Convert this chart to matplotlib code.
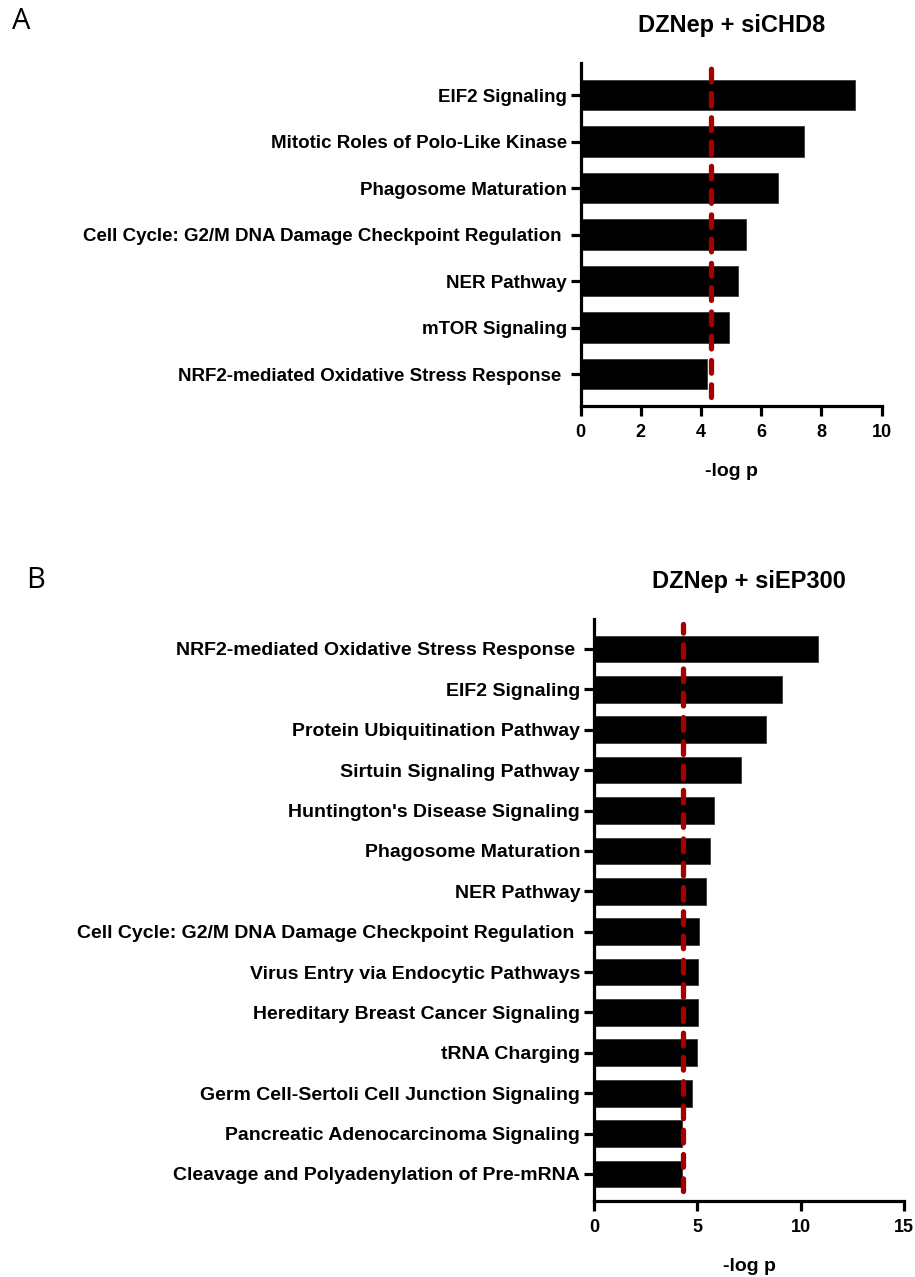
import matplotlib
matplotlib.use("Agg")
import matplotlib.pyplot as plt

plt.rcParams['font.family'] = ['Liberation Sans', 'DejaVu Sans']
plt.rcParams['font.weight'] = 'bold'

# Panel A: DZNep + siCHD8
chd8_terms = [
    "EIF2 Signaling",
    "Mitotic Roles of Polo-Like Kinase",
    "Phagosome Maturation",
    "Cell Cycle: G2/M DNA Damage Checkpoint Regulation ",
    "NER Pathway",
    "mTOR Signaling",
    "NRF2-mediated Oxidative Stress Response ",
]
chd8_logp = [9.10, 7.42, 6.56, 5.48, 5.23, 4.94, 4.19]
chd8_threshold = 4.32
chd8_ticks = [0, 2, 4, 6, 8, 10]

# Panel B: DZNep + siEP300
ep300_terms = [
    "NRF2-mediated Oxidative Stress Response ",
    "EIF2 Signaling",
    "Protein Ubiquitination Pathway",
    "Sirtuin Signaling Pathway",
    "Huntington's Disease Signaling",
    "Phagosome Maturation",
    "NER Pathway",
    "Cell Cycle: G2/M DNA Damage Checkpoint Regulation ",
    "Virus Entry via Endocytic Pathways",
    "Hereditary Breast Cancer Signaling",
    "tRNA Charging",
    "Germ Cell-Sertoli Cell Junction Signaling",
    "Pancreatic Adenocarcinoma Signaling",
    "Cleavage and Polyadenylation of Pre-mRNA",
]
ep300_logp = [10.85, 9.11, 8.34, 7.11, 5.82, 5.60, 5.43, 5.10, 5.05, 5.05,
              5.00, 4.74, 4.27, 4.24]
ep300_threshold = 4.29
ep300_ticks = [0, 5, 10, 15]

fig = plt.figure(figsize=(9.15, 12.77), dpi=100)
fig.patch.set_facecolor('white')


def draw_panel(ax, terms, values, threshold, ticks, title, ylim, vspan,
               bar_h, label_size):
    pos = list(range(len(terms)))
    ax.barh(pos, values, height=bar_h, color='black', edgecolor='#3a3a3a',
            linewidth=0.6, zorder=2)
    ax.set_ylim(*ylim)
    ax.set_xlim(ticks[0], ticks[-1])
    ax.set_xticks(ticks)
    ax.set_yticks(pos)
    ax.set_yticklabels(terms, fontsize=label_size, fontweight='bold')
    for lab in ax.get_xticklabels():
        lab.set_fontsize(13)
        lab.set_fontweight('bold')
    # significance threshold
    ax.plot([threshold, threshold], vspan, color='#a50000', lw=3.8,
            linestyle=(0, (2.4, 2.2)), solid_capstyle='butt',
            dash_capstyle='round', zorder=3)
    for side in ('top', 'right'):
        ax.spines[side].set_visible(False)
    for side in ('left', 'bottom'):
        ax.spines[side].set_linewidth(2.3)
    ax.tick_params(axis='both', width=2.3, length=7, color='black')
    ax.tick_params(axis='y', pad=3)
    ax.tick_params(axis='x', pad=6)
    ax.set_xlabel('-log p', fontsize=14, fontweight='bold', labelpad=16)
    ax.set_title(title, fontsize=17, fontweight='bold', pad=22)


axA = fig.add_axes([0.6346, 0.6823, 0.3290, 0.2684])
draw_panel(axA, chd8_terms, chd8_logp, chd8_threshold, chd8_ticks,
           'DZNep + siCHD8', (6.68, -0.69), (6.49, -0.645), 0.65, 13.5)

axB = fig.add_axes([0.6492, 0.0595, 0.3388, 0.4558])
draw_panel(axB, ep300_terms, ep300_logp, ep300_threshold, ep300_ticks,
           'DZNep + siEP300', (13.67, -0.743), (13.43, -0.63), 0.66, 14)

fig.text(0.013, 0.9828, 'A', fontsize=21, fontweight='normal',
         family=['Open Sans', 'DejaVu Sans'], va='center', ha='left')
fig.text(0.029, 0.5458, 'B', fontsize=21, fontweight='normal',
         family=['Open Sans', 'DejaVu Sans'], va='center', ha='left')

fig.savefig('out.png', dpi=100, facecolor='white')
